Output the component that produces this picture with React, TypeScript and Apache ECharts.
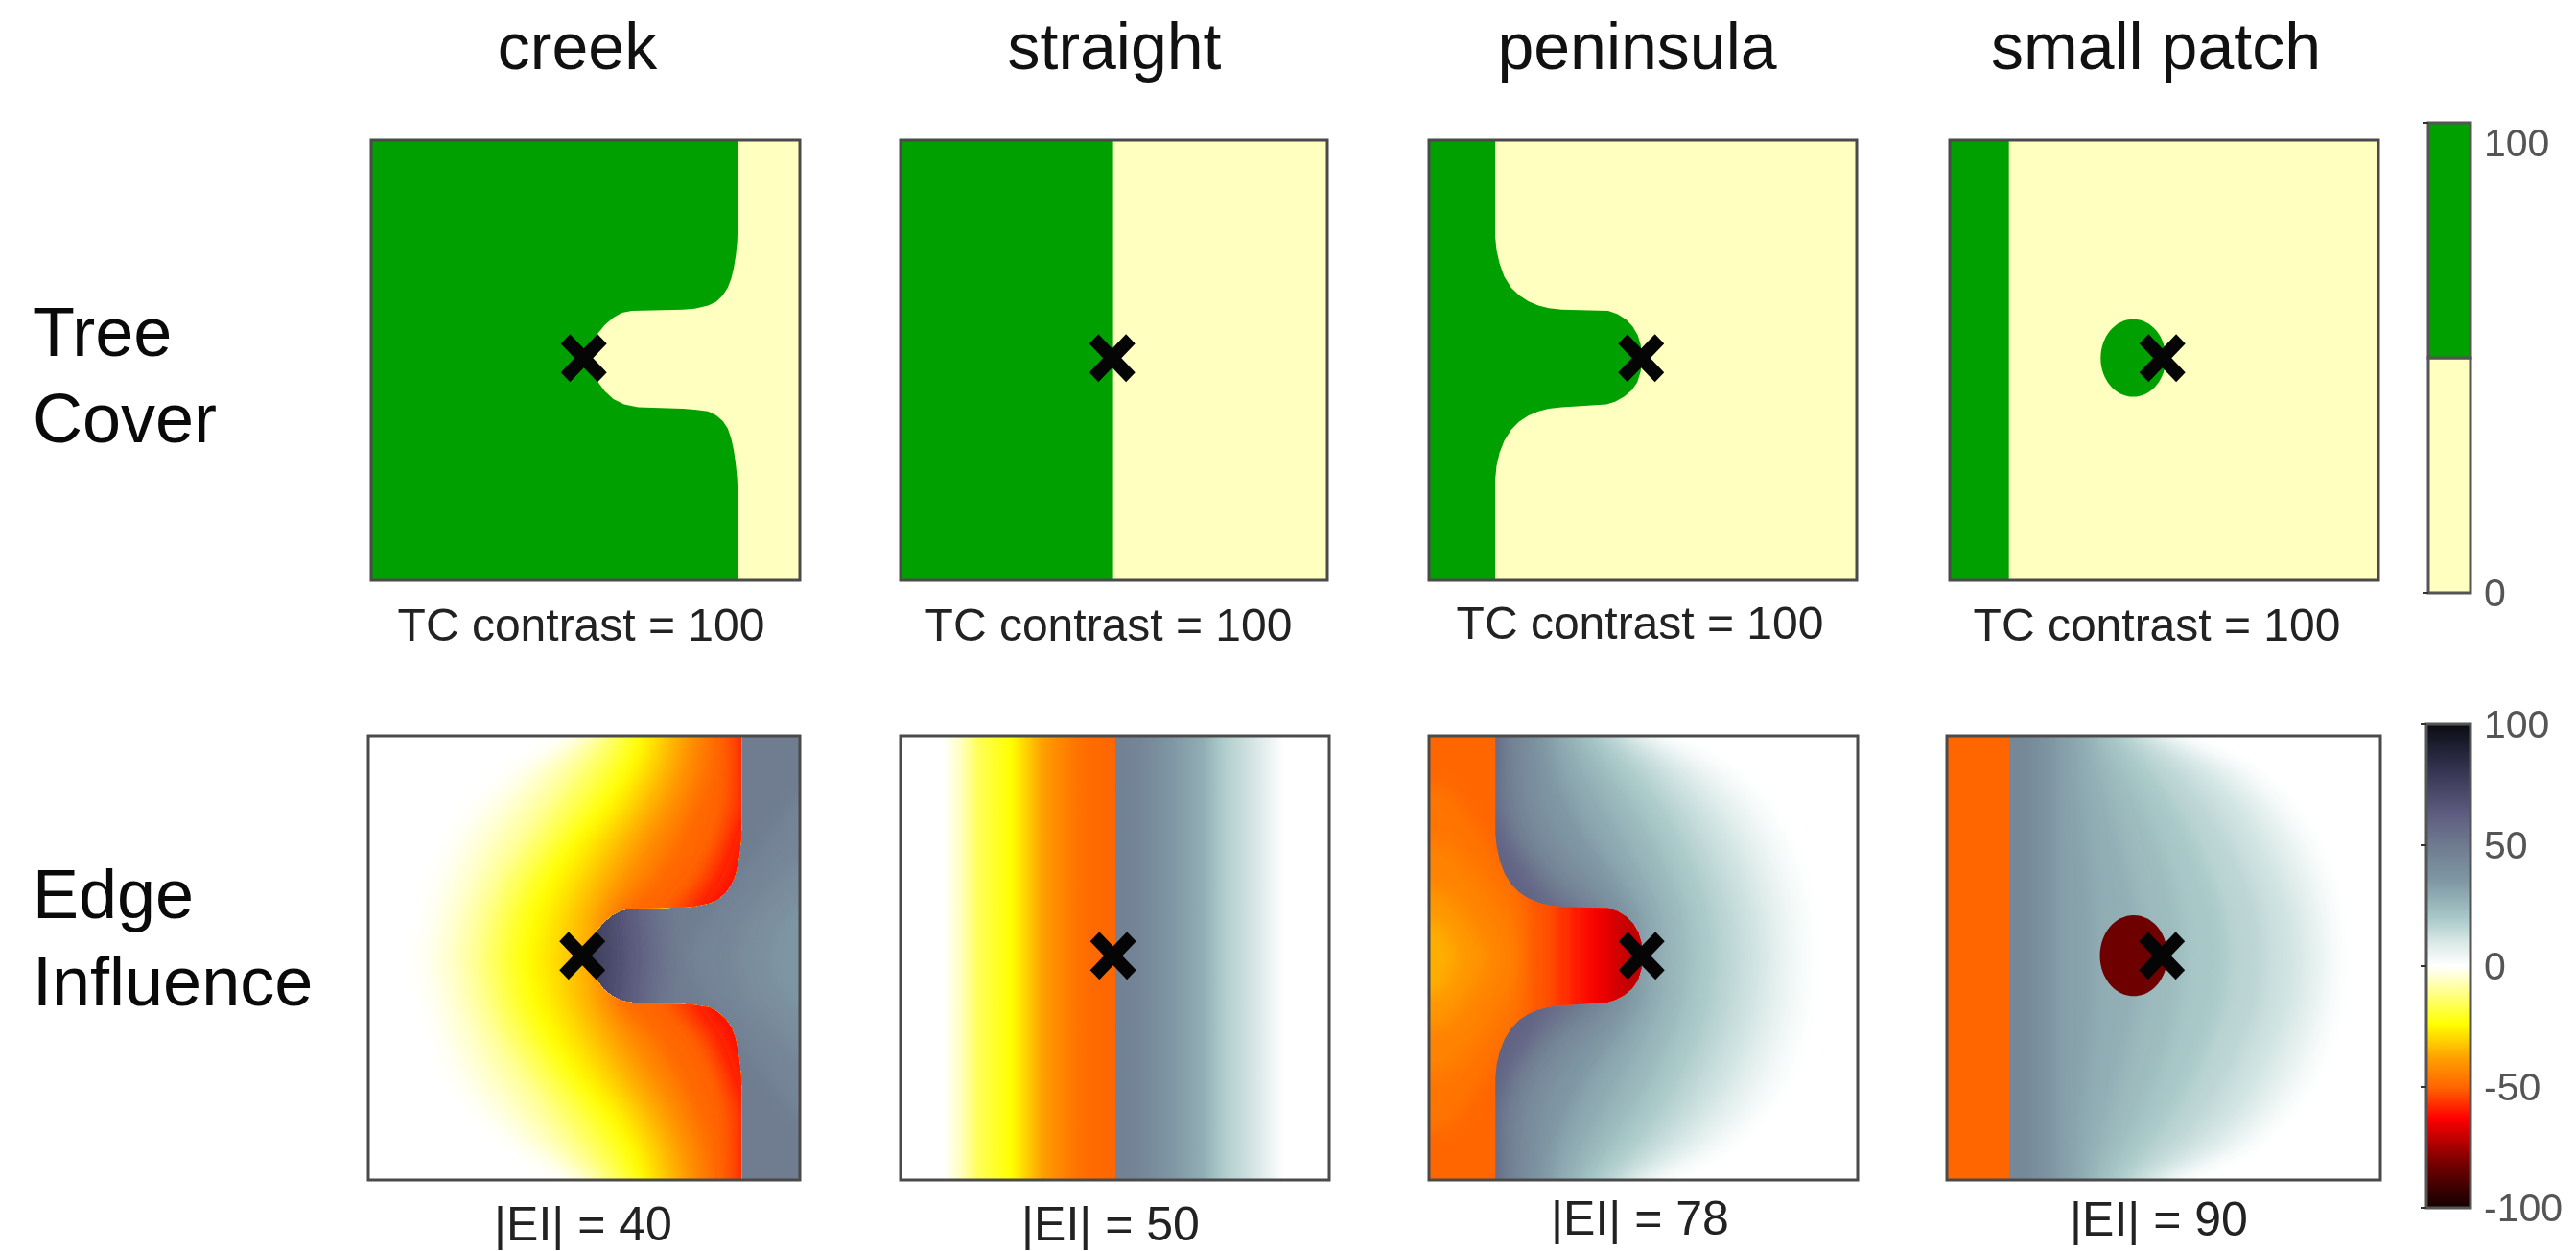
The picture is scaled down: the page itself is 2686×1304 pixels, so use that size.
import React, { useEffect, useRef } from "react";
import * as echarts from "echarts";

const FONT = '"Liberation Sans", Arial, sans-serif';

// ---------- text ----------
const columnTitles = ["creek", "straight", "peninsula", "small patch"];
const rowTitles = [["Tree", "Cover"], ["Edge", "Influence"]];
const tcCaptions = ["TC contrast = 100", "TC contrast = 100", "TC contrast = 100", "TC contrast = 100"];
const eiCaptions = ["|EI| = 40", "|EI| = 50", "|EI| = 78", "|EI| = 90"];

// ---------- colours ----------
const GREEN = "#00a000";
const CREAM = "#ffffbf";
const cmapValues = [-100, -92, -80, -63, -50, -38, -24, -12, 0, 10, 20, 35, 50, 63, 83, 100];
const cmapColors = ["#140000", "#3c0000", "#800000", "#ff0000", "#ff6600", "#ffa000", "#ffff00", "#ffff80", "#ffffff",
  "#d8e8e6", "#a8c8c8", "#7f98a4", "#6f7b90", "#5e5c80", "#30304c", "#0a0c12"];

// ---------- data: tree-cover edges (percent of panel) ----------
const creekEdgeTC = [[85.5, 0], [85.5, 20], [85.4, 23], [85.1, 26], [84.6, 29], [84, 31.4], [83.2, 33.5], [82, 35.3], [80.5, 36.7], [78.6, 37.6], [75.5, 38.3], [72.7, 38.5], [60.8, 38.8], [58.5, 39.2], [56.5, 40.3], [54.5, 42], [52.8, 44], [51.5, 46.2], [50.8, 49.2], [51.5, 52.5], [52.8, 54.8], [54.5, 57], [56.5, 58.8], [59, 60], [62.3, 60.7], [72.7, 61], [75.5, 61.2], [78.6, 61.6], [80.5, 62.5], [82, 63.8], [83.2, 65.5], [84, 67.8], [84.6, 70.5], [85.1, 74], [85.4, 77], [85.5, 80], [85.5, 100]];
const creekEdgeEI = [[86.5, 0], [86.5, 20], [86.4, 23], [86.1, 26], [85.6, 29], [85, 31.4], [84.1, 33.5], [82.8, 35.3], [81, 36.8], [79, 37.7], [75.5, 38.4], [72.7, 38.6], [60.8, 38.9], [58.5, 39.3], [56.5, 40.4], [54.5, 42], [52.8, 44], [51.5, 46.2], [50.8, 49.2], [51.5, 52.5], [52.8, 54.8], [54.5, 57], [56.5, 58.6], [59, 59.7], [62.3, 60.2], [72.7, 60.4], [75.5, 60.6], [79, 61.1], [81, 62.2], [82.8, 63.8], [84.1, 65.5], [85, 67.8], [85.6, 70.5], [86.1, 74], [86.4, 77], [86.5, 80], [86.5, 100]];
const straightEdgeTC = [[49.8, 0], [49.8, 100]];
const peninsulaEdge = [[15.5, 0], [15.5, 22], [15.8, 25], [16.5, 28], [17.6, 31], [19.2, 33.5], [21, 35.2], [23.2, 36.6], [25.6, 37.6], [28, 38.2], [31, 38.5], [41.9, 38.8], [44, 39.5], [46, 40.7], [47.6, 42.3], [48.8, 44.3], [49.5, 46.5], [49.8, 49.5], [49.5, 52.5], [48.7, 55], [47.4, 56.8], [45.6, 58.3], [43.5, 59.4], [41.5, 60], [31, 60.7], [28, 61], [25.6, 61.6], [23.2, 62.6], [21, 64], [19.2, 65.8], [17.6, 68.3], [16.5, 71], [15.8, 74], [15.5, 77], [15.5, 100]];
const patchStripTC = [[13.8, 0], [13.8, 100]];
const patchStripEI = [[14.4, 0], [14.4, 100]];
const patchCircleTC = [42.8, 49.5, 7.6, 8.8];
const patchCircleEI = [43.1, 49.5, 7.8, 9.1];
const crossPoint = [49.6, 49.5];
const tcBarLow = [0, 50];
const tcBarHigh = [50, 100];

// ---------- data: edge-influence isolines ----------
const isoRows = [0, 8, 16, 24, 32, 40, 50];

const creekForestLevels = [-1, -4, -8, -12, -16, -20, -24, -28, -33, -38, -44, -50, -56, -62];
const creekForestX = [
  [46.5, 32.5, 24, 18.5, 15.5, 13, 11],
  [49, 37, 29, 23, 19.5, 17, 15],
  [52, 42, 35, 29, 25, 22, 20],
  [55, 47, 41, 35, 30, 26.5, 24.5],
  [57.5, 51, 45, 39, 33.5, 30, 28],
  [60, 55, 49.5, 43, 37.5, 33.5, 31.5],
  [62.6, 58.5, 53, 46.3, 40.7, 36.7, 34.8],
  [65, 62, 57, 50, 45, 41, 39],
  [68, 65.5, 61, 55, 50, 46, 44.5],
  [71.5, 69.5, 65.5, 60, 55, 51, 50],
  [75, 73.5, 70, 65, 60, 55, 54],
  [79, 78, 75, 71, 66, 58, 57],
  [84, 84, 83.5, 81, 77, 70, 70],
  [88, 88, 88, 85, 82, 76, 76],
];
const creekOpenBase = 49;
const creekOpenValues = [45, 40, 36, 52, 58, 64, 70, 76];
const creekOpenShapes = [
  [[120, 14], [100, 14], [92, 24], [85, 34], [78, 42], [74, 50]],
  [[120, 28], [100, 28], [93, 35], [87, 42], [85, 50]],
  [[120, 38], [100, 38], [95, 43], [93, 50]],
  [[40, 25], [69, 25], [70, 38], [71, 50]],
  [[40, 25], [65, 25], [66, 38], [67, 50]],
  [[40, 25], [61, 25], [62, 38], [63, 50]],
  [[40, 25], [57, 25], [58, 38], [59, 50]],
  [[40, 25], [53, 25], [54, 38], [55, 50]],
];

const straightProfile = [[0, 0], [10, 0], [14, -6], [18.3, -16], [22, -20], [25.8, -24], [29, -30], [33, -38], [37, -43], [40.7, -47], [44, -49], [50, -50], [50.1, 47], [55.7, 45], [63, 36], [70.7, 28], [75, 19], [80.4, 13], [85.6, 6], [89.4, 0], [100, 0]];

const peninsulaOpenLevels = [1, 4, 8, 12, 16, 20, 25, 30, 36, 42, 48, 54, 60];
const peninsulaOpenX = [
  [55.5, 72, 80, 85, 88, 89.5, 90],
  [52, 68, 76, 81, 84, 86, 86.5],
  [49, 63, 71, 76, 79.5, 81.5, 82],
  [46, 58, 65.5, 71, 74.5, 77, 78],
  [43, 53, 60, 65, 69, 71.5, 72.5],
  [40, 48, 54.5, 59.5, 63.5, 66, 67],
  [36, 42, 48, 53, 57, 60, 61],
  [32, 36, 41, 46, 50.5, 54, 55],
  [28, 30, 33.5, 38, 44, 49, 50],
  [24, 25, 26, 30, 37, 44, 45],
  [20, 20, 21, 24, 30, 40, 42],
  [16.5, 16.5, 17, 20, 26, 35, 38],
  [15, 15, 15, 18, 23, 29, 30],
];
const peninsulaForestBase = -50;
const peninsulaForestValues = [-47, -44, -40, -36, -52, -56, -60, -64, -68, -72];
const peninsulaForestShapes = [
  [[-20, 8], [5, 12], [14, 25], [22, 37], [27, 44], [28, 50]],
  [[-20, 22], [5, 25], [12, 33], [18, 42], [21, 50]],
  [[-20, 32], [4, 35], [10, 42], [14, 50]],
  [[-20, 40], [3, 42], [7, 50]],
  [[120, 25], [23, 25], [23, 50]],
  [[120, 25], [29, 25], [29, 50]],
  [[120, 25], [33, 25], [33, 50]],
  [[120, 25], [37, 25], [37, 50]],
  [[120, 25], [41, 25], [41, 50]],
  [[120, 25], [45, 25], [45, 50]],
];

const patchOpenLevels = [1, 4, 8, 12, 16, 20, 24, 28, 32, 38, 44];
const patchOpenX = [
  [54, 72, 81, 86, 89, 91, 91.5],
  [51, 69, 77, 82.5, 86, 88, 89],
  [49, 65, 73, 78.5, 82, 84.5, 85.5],
  [46, 60, 68, 73, 77, 80, 81],
  [43, 54, 61, 66, 70, 73, 74],
  [40, 47, 53, 57.5, 61, 64, 65],
  [36, 41, 45.5, 49, 52, 54, 55],
  [33, 35.5, 38, 40.5, 42.5, 44.5, 45],
  [30, 30.5, 31.5, 32.5, 33.5, 34, 34],
  [25, 25, 25, 25, 25, 25, 25],
  [20, 20, 20, 20, 20, 20, 20],
];
const patchStripValue = -50;
const patchCircleValue = -83;

// ---------- layout ----------
const tcRects = [[387, 146, 447, 459], [939, 146, 445, 459], [1490, 146, 446, 459], [2033, 146, 447, 459]];
const eiRects = [[384, 767, 450, 463], [939, 767, 447, 463], [1490, 767, 447, 463], [2030, 767, 452, 463]];
const tcBarRect = [2532, 128, 44, 490];
const eiBarRect = [2530, 755, 46, 504];

function colorOf(v: number) {
  const n = cmapValues.length;
  if (v <= cmapValues[0]) return cmapColors[0];
  for (let i = 1; i < n; i++) {
    if (v <= cmapValues[i]) {
      const t = (v - cmapValues[i - 1]) / (cmapValues[i] - cmapValues[i - 1]);
      return echarts.color.lerp(t, [cmapColors[i - 1], cmapColors[i]]) as string;
    }
  }
  return cmapColors[n - 1];
}

const mirror = (pts: number[][]) => {
  const rev = pts.slice(0, -1).reverse().map((p) => [p[0], 100 - p[1]]);
  return [...pts, ...rev];
};
const contour = (xs: number[], anchor: number) => mirror([[anchor, -10], [xs[0], -10], ...isoRows.map((y, i) => [xs[i], y])]);
const closeLeft = (edge: number[][]) => [[-20, -10], [edge[0][0], -10], ...edge, [edge[edge.length - 1][0], 110], [-20, 110]];
const wholePanel = [[-5, -5], [105, -5], [105, 105], [-5, 105]];

type Shape = { pts?: number[][]; ell?: number[]; fill: string; blur?: number; clip?: number[][]; grad?: number[][] };

// The hidden source of a soft isoline sits above the panel; only its blurred shadow lands inside it.
const SHADOW_SHIFT = 1300;

function App() {
  const ref = useRef<HTMLDivElement>(null);
  useEffect(() => {
    document.body.style.margin = "0";
    const chart = echarts.init(ref.current!, undefined, { renderer: "svg" });

    const grids: any[] = [];
    const xAxes: any[] = [];
    const yAxes: any[] = [];
    const series: any[] = [];

    const addPanel = (rect: number[]) => {
      const idx = grids.length;
      grids.push({ left: rect[0], top: rect[1], width: rect[2], height: rect[3] });
      xAxes.push({ type: "value", gridIndex: idx, min: 0, max: 100, show: false });
      yAxes.push({ type: "value", gridIndex: idx, min: 0, max: 100, inverse: true, show: false });
      return idx;
    };

    const shapeSeries = (idx: number, shapes: Shape[]) => ({
      type: "custom",
      xAxisIndex: idx,
      yAxisIndex: idx,
      clip: true,
      silent: true,
      data: shapes.map(() => [50, 50]),
      renderItem: (params: any, api: any) => {
        const s = shapes[params.dataIndex];
        const toPx = (pts: number[][]) => pts.map((p) => api.coord(p));
        const el: any = {};
        if (s.grad) {
          const a = api.coord([0, 0]);
          const b = api.coord([100, 100]);
          return {
            type: "rect",
            shape: { x: a[0], y: a[1], width: b[0] - a[0], height: b[1] - a[1] },
            style: {
              fill: new echarts.graphic.LinearGradient(0, 0, 1, 0,
                s.grad.map((p) => ({ offset: p[0] / 100, color: colorOf(p[1]) }))),
            },
          };
        }
        if (s.ell) {
          const c = api.coord([s.ell[0], s.ell[1]]);
          const e = api.coord([s.ell[0] + s.ell[2], s.ell[1] + s.ell[3]]);
          el.type = "ellipse";
          el.shape = { cx: c[0], cy: c[1], rx: e[0] - c[0], ry: e[1] - c[1] };
          el.style = { fill: s.fill };
        } else if (s.blur) {
          const p = s.pts!;
          const spiked = [[p[0][0], -60], ...p, [p[p.length - 1][0], 260]];
          el.type = "polygon";
          el.shape = { points: toPx(spiked).map((q: number[]) => [q[0], q[1] - SHADOW_SHIFT]) };
          el.style = { fill: s.fill, shadowBlur: s.blur, shadowColor: s.fill, shadowOffsetX: 0, shadowOffsetY: SHADOW_SHIFT };
        } else {
          el.type = "polygon";
          el.shape = { points: toPx(s.pts!) };
          el.style = { fill: s.fill };
        }
        if (s.clip) el.clipPath = { type: "polygon", shape: { points: toPx(s.clip) } };
        return el;
      },
    });

    const finishPanel = (idx: number) => {
      series.push({
        type: "custom", xAxisIndex: idx, yAxisIndex: idx, clip: false, silent: true, data: [[0, 0]],
        renderItem: (_: any, api: any) => {
          const a = api.coord([0, 0]);
          const b = api.coord([100, 100]);
          return {
            type: "rect",
            shape: { x: a[0], y: a[1], width: b[0] - a[0], height: b[1] - a[1] },
            style: { fill: "none", stroke: "#4a4a4a", lineWidth: 3 },
          };
        },
      });
      series.push({
        type: "scatter", xAxisIndex: idx, yAxisIndex: idx, silent: true, data: [crossPoint],
        symbol: "path://M20,0 L50,30 L80,0 L100,20 L70,50 L100,80 L80,100 L50,70 L20,100 L0,80 L30,50 L0,20 Z",
        symbolSize: [48, 50], itemStyle: { color: "#050505", opacity: 1 }, z: 5,
      });
    };

    // ----- Tree cover row -----
    const tcEdges = [creekEdgeTC, straightEdgeTC, peninsulaEdge, patchStripTC];
    tcRects.forEach((rect, i) => {
      const idx = addPanel(rect);
      const shapes: Shape[] = [
        { pts: wholePanel, fill: CREAM },
        { pts: closeLeft(tcEdges[i]), fill: GREEN },
      ];
      if (i === 3) shapes.push({ ell: patchCircleTC, fill: GREEN });
      series.push(shapeSeries(idx, shapes));
      finishPanel(idx);
    });

    // ----- Edge influence row -----
    const BLUR = 18;
    const lvl = (levels: number[], xs: number[][], anchor: number, clip?: number[][]): Shape[] =>
      levels.map((v, i) => ({ pts: contour(xs[i], anchor), fill: colorOf(v), blur: BLUR, clip }));
    const free = (values: number[], shapes: number[][][], clip?: number[][]): Shape[] =>
      values.map((v, i) => ({ pts: mirror(shapes[i]), fill: colorOf(v), blur: BLUR, clip }));

    const creekForest = closeLeft(creekEdgeEI);
    const penForest = closeLeft(peninsulaEdge);

    const eiShapes: Shape[][] = [
      [
        { pts: wholePanel, fill: colorOf(creekOpenBase) },
        ...free(creekOpenValues, creekOpenShapes),
        { pts: wholePanel, fill: "#ffffff", clip: creekForest },
        ...lvl(creekForestLevels, creekForestX, 130, creekForest),
      ],
      [{ grad: straightProfile, fill: "#fff" }],
      [
        ...lvl(peninsulaOpenLevels, peninsulaOpenX, -30),
        { pts: wholePanel, fill: colorOf(peninsulaForestBase), clip: penForest },
        ...free(peninsulaForestValues, peninsulaForestShapes, penForest),
      ],
      [
        ...lvl(patchOpenLevels, patchOpenX, -30),
        { pts: closeLeft(patchStripEI), fill: colorOf(patchStripValue) },
        { ell: patchCircleEI, fill: colorOf(patchCircleValue) },
      ],
    ];
    eiRects.forEach((rect, i) => {
      const idx = addPanel(rect);
      series.push(shapeSeries(idx, eiShapes[i]));
      finishPanel(idx);
    });

    // ----- Colour bars -----
    const addBar = (rect: number[], min: number, max: number, interval: number, maxAlign?: string) => {
      const idx = grids.length;
      grids.push({ left: rect[0], top: rect[1], width: rect[2], height: rect[3] });
      xAxes.push({ type: "value", gridIndex: idx, min: 0, max: 1, show: false });
      yAxes.push({
        type: "value", gridIndex: idx, min, max, interval, position: "right", z: 6,
        splitLine: { show: false },
        axisLine: { show: false },
        axisTick: { show: true, inside: true, length: 6, lineStyle: { color: "#333", width: 2 } },
        axisLabel: { color: "#555", fontFamily: FONT, fontSize: 41, margin: 14, verticalAlignMaxLabel: maxAlign },
      });
      return idx;
    };
    const barSeries = (idx: number, data: any[], fillOf: (d: any) => any) => ({
      type: "custom", xAxisIndex: idx, yAxisIndex: idx, silent: true, clip: false,
      data: data.map((d) => [0, d[0], d[1]]),
      renderItem: (params: any, api: any) => {
        const a = api.coord([0, api.value(2)]);
        const b = api.coord([1, api.value(1)]);
        return {
          type: "rect",
          shape: { x: a[0], y: a[1], width: b[0] - a[0], height: b[1] - a[1] },
          style: { fill: fillOf(data[params.dataIndex]), stroke: "#555", lineWidth: 3 },
        };
      },
    });
    const tcBar = addBar(tcBarRect, 0, 100, 100, "top");
    series.push(barSeries(tcBar, [tcBarLow, tcBarHigh], (d) => (d[0] === 0 ? CREAM : GREEN)));
    const eiBar = addBar(eiBarRect, -100, 100, 50);
    series.push(barSeries(eiBar, [[-100, 100]], () =>
      new echarts.graphic.LinearGradient(0, 1, 0, 0,
        cmapValues.map((v, i) => ({ offset: (v + 100) / 200, color: cmapColors[i] })))));

    // ----- Text -----
    const titleX = [602, 1162, 1707, 2248];
    const captionX = [606, 1156, 1710, 2249];
    const captionY = [651, 651, 649, 651];
    const eiCaptionX = [608, 1158, 1710, 2251];
    const eiCaptionY = [1276, 1276, 1270, 1271];
    const rowY = [[346, 436], [932, 1023]];
    const text = (t: string, x: number, y: number, size: number, align: string, fill: string) => ({
      type: "text", x, y, silent: true,
      style: { text: t, font: `${size}px ${FONT}`, fill, align, verticalAlign: "middle" },
    });
    const graphic: any[] = [];
    columnTitles.forEach((t, i) => graphic.push(text(t, titleX[i], 48, 68, "center", "#111")));
    rowTitles.forEach((pair, r) => pair.forEach((t, k) => graphic.push(text(t, 34, rowY[r][k], 72, "left", "#0a0a0a"))));
    tcCaptions.forEach((t, i) => graphic.push(text(t, captionX[i], captionY[i], 48, "center", "#222")));
    eiCaptions.forEach((t, i) => graphic.push(text(t, eiCaptionX[i], eiCaptionY[i], 50, "center", "#222")));

    chart.setOption({ animation: false, backgroundColor: "#fff", grid: grids, xAxis: xAxes, yAxis: yAxes, series, graphic });
    return () => chart.dispose();
  }, []);
  return <div ref={ref} style={{ position: "absolute", left: 0, top: 0, width: 2686, height: 1304, filter: "blur(0.7px)" }} />;
}

export default App;
